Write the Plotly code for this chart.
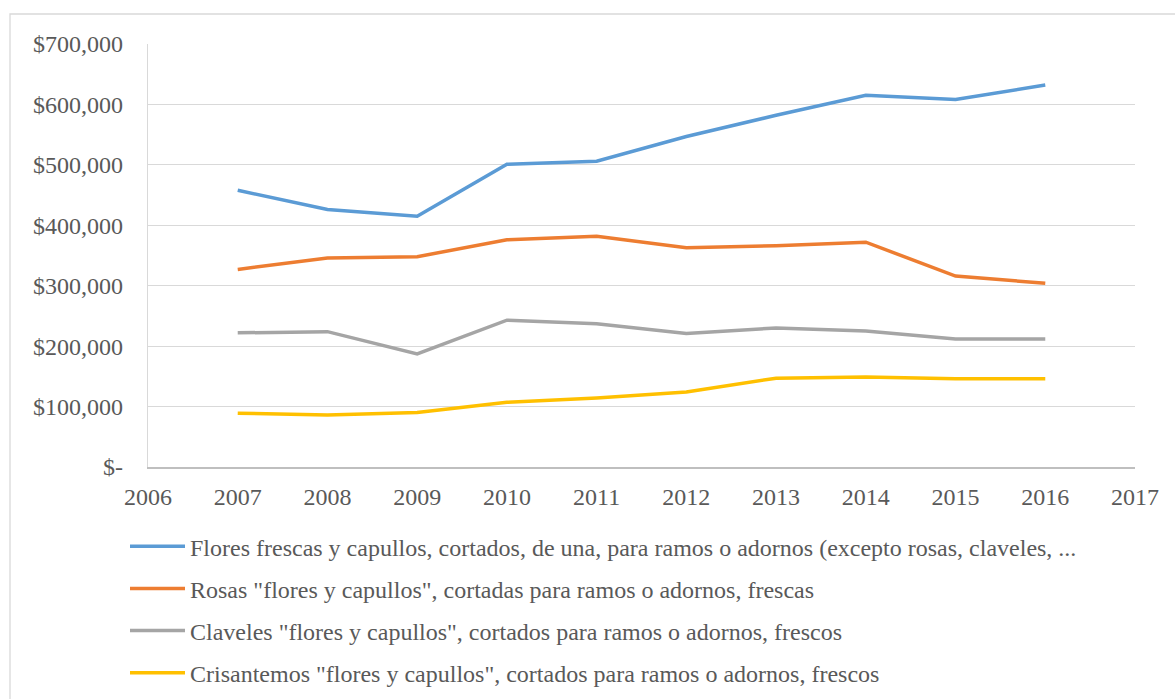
import plotly.graph_objects as go

years = [2007, 2008, 2009, 2010, 2011, 2012, 2013, 2014, 2015, 2016]
flores = [458000, 426000, 415000, 501000, 506000, 547000, 582000, 615000, 608000, 632000]
rosas = [327000, 346000, 348000, 376000, 382000, 363000, 366000, 372000, 316000, 304000]
claveles = [222000, 224000, 187000, 243000, 237000, 221000, 230000, 225000, 212000, 212000]
crisantemos = [89000, 86000, 90000, 107000, 114000, 124000, 147000, 149000, 146000, 146000]

names = [
    'Flores frescas y capullos, cortados, de una, para ramos o adornos (excepto rosas, claveles, ...',
    'Rosas "flores y capullos", cortadas para ramos o adornos, frescas',
    'Claveles "flores y capullos", cortados para ramos o adornos, frescos',
    'Crisantemos "flores y capullos", cortados para ramos o adornos, frescos',
]
colors = ['#5B9BD5', '#ED7D31', '#A5A5A5', '#FFC000']

y_tickvals = [0, 100000, 200000, 300000, 400000, 500000, 600000, 700000]
y_ticktext = ['$-', '$100,000', '$200,000', '$300,000', '$400,000', '$500,000', '$600,000', '$700,000']
x_tickvals = list(range(2006, 2018))

fig = go.Figure()
for i, (vals, name, col) in enumerate(zip([flores, rosas, claveles, crisantemos], names, colors)):
    fig.add_trace(go.Scatter(x=years, y=vals, mode='lines', name=name,
                             legendgroup=f'g{i}',
                             line=dict(color=col, width=3.5)))

font_family = 'Liberation Serif'
fig.update_layout(
    width=1175, height=699,
    margin=dict(l=148, r=40, t=44, b=232, autoexpand=False),
    paper_bgcolor='white', plot_bgcolor='white',
    font=dict(family=font_family, size=24, color='#595959'),
    showlegend=True,
    legend=dict(
        x=-0.0233, y=-0.135, xanchor='left', yanchor='top',
        font=dict(family=font_family, size=24, color='#595959'),
        traceorder='grouped', tracegroupgap=8,
        itemwidth=55, bgcolor='rgba(0,0,0,0)',
    ),
    xaxis=dict(
        range=[2006, 2017], tickvals=x_tickvals, ticktext=[str(v) for v in x_tickvals],
        showgrid=False, zeroline=False, showline=True, linecolor='#BFBFBF', linewidth=1.5,
        ticks='', ticklabelstandoff=7,
        tickfont=dict(family=font_family, size=24, color='#595959'),
    ),
    yaxis=dict(
        range=[0, 700000], tickvals=y_tickvals, ticktext=y_ticktext,
        showgrid=True, gridcolor='#D9D9D9', gridwidth=1.3, zeroline=False,
        showline=True, linecolor='#D9D9D9', linewidth=1.3,
        ticks='', ticklabelstandoff=19,
        tickfont=dict(family=font_family, size=24, color='#595959'),
    ),
    shapes=[dict(type='rect', xref='paper', yref='paper',
                 x0=(10 - 148) / 987, x1=1.2, y0=-1.0, y1=(467 - 14) / 423,
                 line=dict(color='#D9D9D9', width=1.3), fillcolor='rgba(0,0,0,0)', layer='below')],
)

fig.write_html('out.html', config={'displayModeBar': False},
               post_script="document.body.style.margin='0px';")
